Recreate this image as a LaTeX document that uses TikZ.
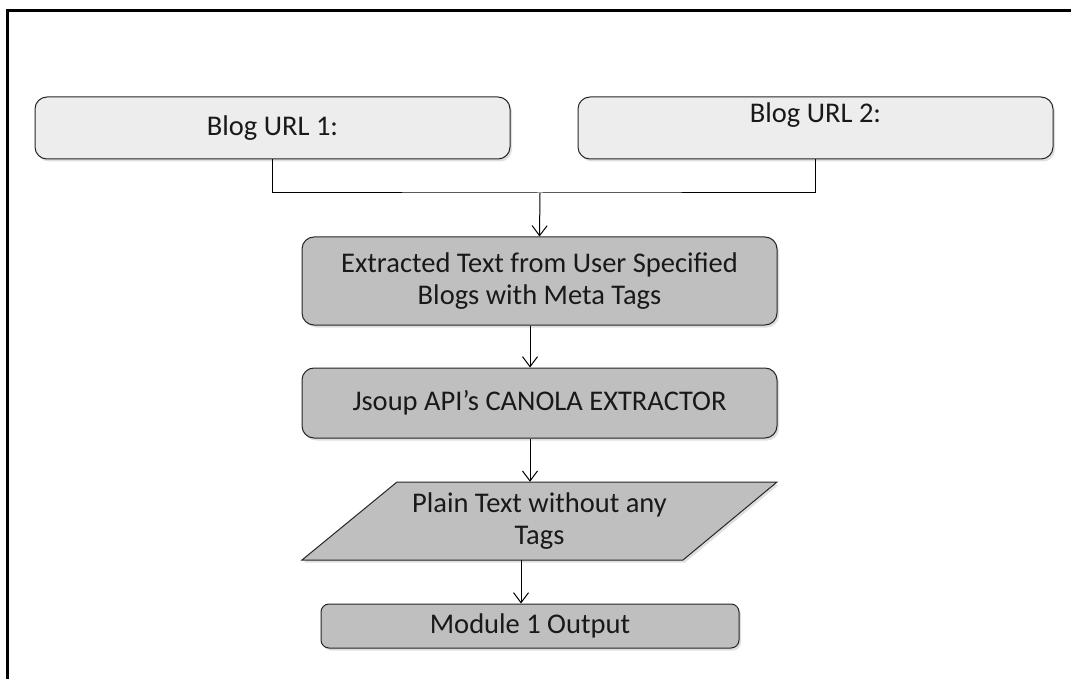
\documentclass[tikz,border=0pt]{standalone}
\usepackage{fontspec}
\setmainfont{Carlito}
\usetikzlibrary{arrows.meta,shadows}
\definecolor{lightbox}{HTML}{EDEDED}
\definecolor{darkbox}{HTML}{BFBFBF}
\begin{document}
\begin{tikzpicture}[x=1pt,y=-1pt,
  txt/.style={font=\fontsize{28.5}{31.5}\selectfont, text=black!90},
  box/.style={draw=black!85, line width=1pt, rounded corners=12pt, inner sep=0pt, align=center, txt,
    drop shadow={shadow xshift=2pt,shadow yshift=-2.5pt,opacity=0.25}},
  lightbox/.style={box, fill=lightbox},
  darkbox/.style={box, fill=darkbox},
  conn/.style={line width=1pt, black},
  arr/.style={conn, -{Straight Barb[length=10pt,width=15pt]}}
]
\useasboundingbox (0,0) rectangle (1071,679);
% frame
\draw[line width=3pt] (1071,10.5) -- (7.5,10.5) -- (7.5,679);

\node[lightbox, minimum width=475pt, minimum height=62pt] (b1) at (272.5,128) {Blog URL 1:};
\node[lightbox, minimum width=475pt, minimum height=62pt] (b2) at (815.5,128) {Blog URL 2:\\~};
\node[darkbox, minimum width=475pt, minimum height=88pt] (ext) at (539.5,281) {Extracted Text from User Specified\\Blogs with Meta Tags};
\node[darkbox, minimum width=475pt, minimum height=70pt] (jsoup) at (539.5,403) {Jsoup API’s CANOLA EXTRACTOR};
% parallelogram
\draw[draw=black!85, line width=1pt, fill=darkbox, drop shadow={shadow xshift=2pt,shadow yshift=-2.5pt,opacity=0.25}]
  (397,482) -- (777,482) -- (683,560) -- (302,560) -- cycle;
\node[inner sep=0pt, align=center, txt, minimum width=380pt, minimum height=78pt] (para) at (539.5,521) {Plain Text without any\\Tags};
\node[darkbox, rounded corners=8pt, minimum width=418pt, minimum height=44pt] (mod) at (530,626) {Module 1 Output};

% connectors
\coordinate (j) at (540,193);
\draw[conn] (b1.south) |- (j) -| (b2.south);
\draw[arr] (j) -- (ext.north);
\draw[arr] ([xshift=-9.5pt]ext.south) -- ([xshift=-9.5pt]jsoup.north);
\draw[arr] ([xshift=-9.5pt]jsoup.south) -- ([xshift=-9.5pt]para.north);
\draw[arr] ([xshift=-18.5pt]para.south) -- ([xshift=-9pt]mod.north);
\end{tikzpicture}
\end{document}
